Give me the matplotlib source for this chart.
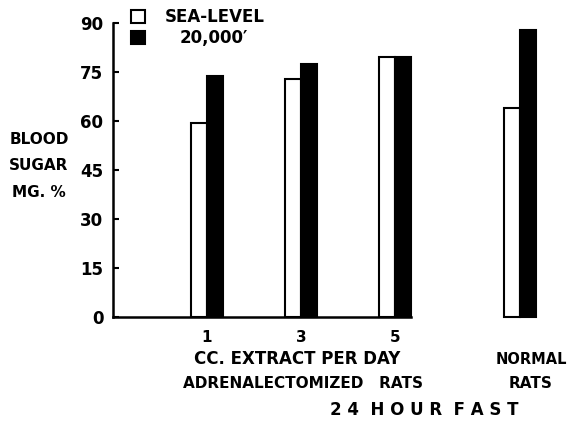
import numpy as np
import matplotlib
matplotlib.use("Agg")
from matplotlib import pyplot as plt

# Data
groups = ["1", "3", "5", "NORMAL"]
sea_level = [59.3, 73.0, 79.5, 63.9]
altitude = [73.7, 77.4, 79.5, 87.8]
y_ticks = [0, 15, 30, 45, 60, 75, 90]

# Layout
x_pos = np.array([1.0, 2.0, 3.0, 4.33])
width = 0.175
font = dict(family="DejaVu Sans", fontweight="bold")

fig = plt.figure(figsize=(5.69, 4.29), dpi=100)
ax = fig.add_axes([113 / 569, 1 - 317 / 429, 447 / 569, 294 / 429])

# Bars
ax.bar(x_pos - width / 2, sea_level, width, color="white",
       edgecolor="black", linewidth=1.5, clip_on=False)
ax.bar(x_pos + width / 2, altitude, width, color="black",
       edgecolor="black", linewidth=1.5, clip_on=False)

# Axes
ax.set_xlim(0, 4.755)
ax.set_ylim(0, 90)
ax.set_yticks(y_ticks)
ax.set_yticklabels([str(t) for t in y_ticks], fontsize=12, **font)
ax.tick_params(axis="y", direction="in", length=4, width=1.5, pad=7)
ax.set_xticks(x_pos[:3])
ax.set_xticklabels(groups[:3], fontsize=11, **font)
ax.tick_params(axis="x", length=0, pad=9)
ax.spines["top"].set_visible(False)
ax.spines["right"].set_visible(False)
ax.spines["left"].set_linewidth(1.8)
ax.spines["bottom"].set_linewidth(1.8)
ax.spines["bottom"].set_bounds(0, x_pos[2] + width)

# Y label
fig.text(39 / 569, 1 - 166 / 429, "BLOOD\nSUGAR\nMG. %", ha="center",
         va="center", fontsize=11, linespacing=1.95, **font)

# Category labels
fig.text(297 / 569, 1 - 359 / 429, "CC. EXTRACT PER DAY", ha="center",
         va="center", fontsize=12, **font)
fig.text(303 / 569, 1 - 384 / 429, "ADRENALECTOMIZED   RATS", ha="center",
         va="center", fontsize=11, **font)
fig.text(424 / 569, 1 - 410 / 429, "2 4  H O U R  F A S T", ha="center",
         va="center", fontsize=12, **font)
fig.text(531 / 569, 1 - 359 / 429, "NORMAL", ha="center", va="center",
         fontsize=10.5, **font)
fig.text(531 / 569, 1 - 384 / 429, "RATS", ha="center", va="center",
         fontsize=11, **font)

# Legend
fig.patches.append(plt.Rectangle((131 / 569, 1 - 23 / 429), 14 / 569,
                                 13 / 429, transform=fig.transFigure,
                                 facecolor="white", edgecolor="black",
                                 linewidth=1.5))
fig.patches.append(plt.Rectangle((131 / 569, 1 - 44 / 429), 14 / 569,
                                 13 / 429, transform=fig.transFigure,
                                 facecolor="black", edgecolor="black",
                                 linewidth=1.5))
fig.text(165 / 569, 1 - 17 / 429, "SEA-LEVEL", ha="left", va="center",
         fontsize=12, **font)
fig.text(180 / 569, 1 - 38 / 429, "20,000\u2032", ha="left", va="center",
         fontsize=12, **font)

fig.savefig("out.png", dpi=100)
